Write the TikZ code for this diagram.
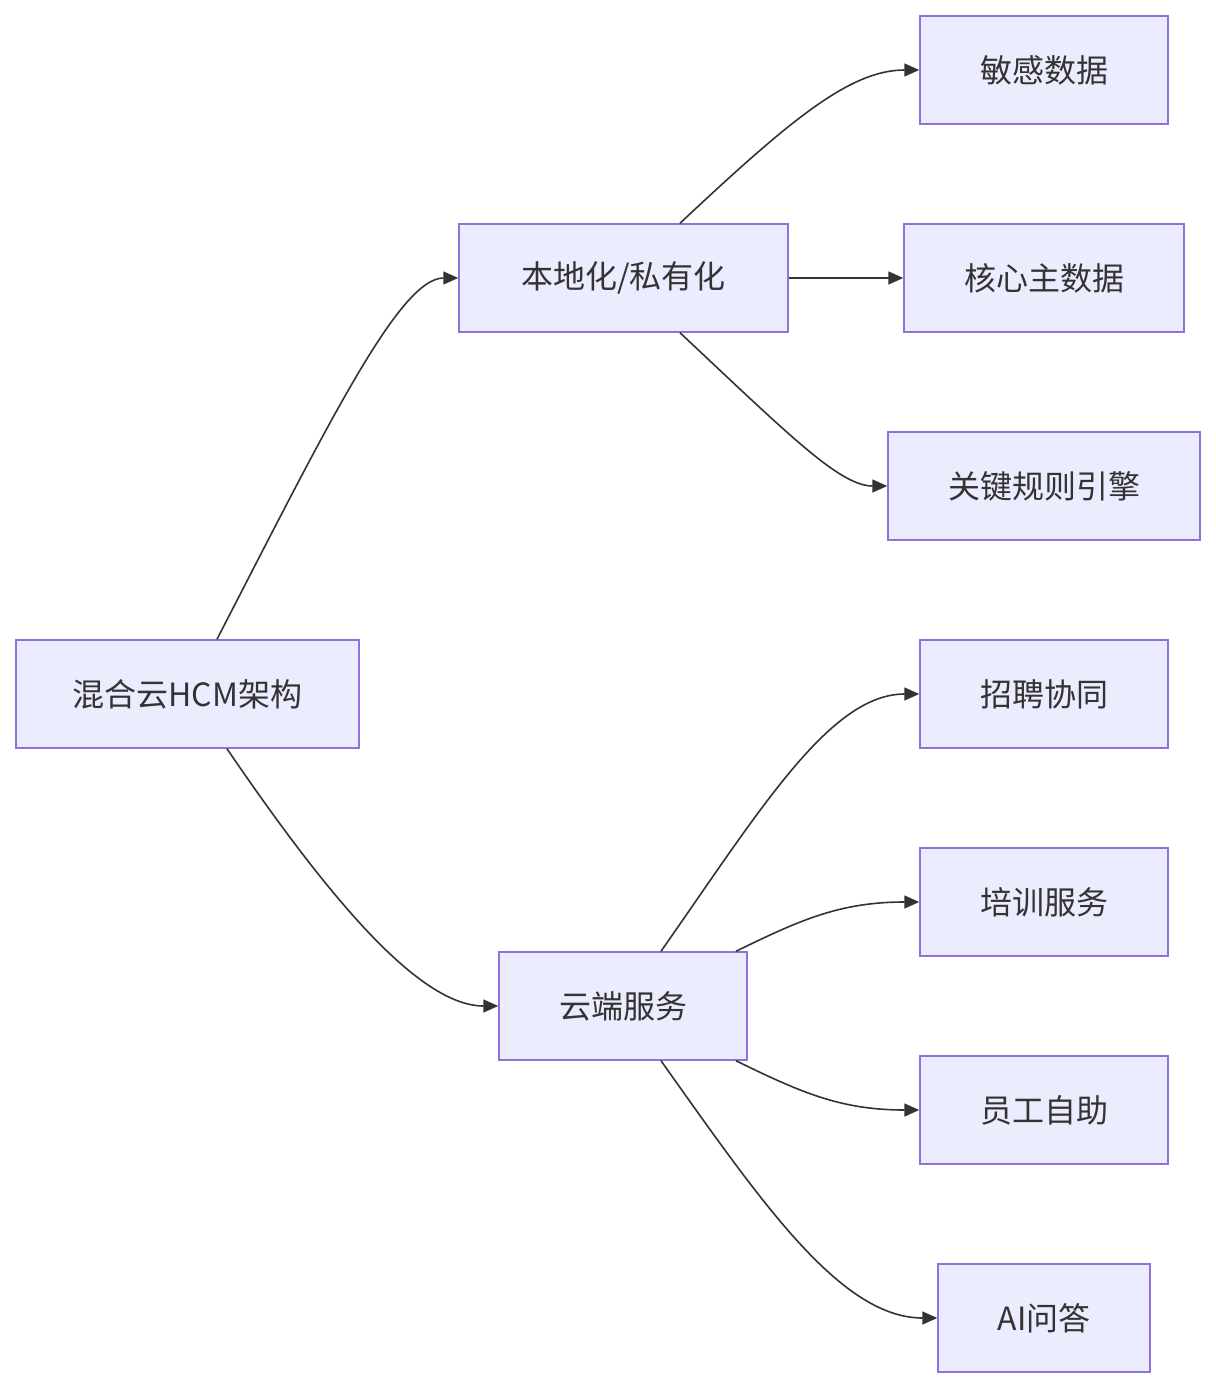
\documentclass[tikz,border=0pt]{standalone}
\usepackage{fontspec}
\setmainfont{Noto Sans CJK SC}
\usetikzlibrary{arrows.meta}
\definecolor{boxfill}{HTML}{ECECFF}
\definecolor{boxline}{HTML}{9370DB}
\definecolor{ink}{HTML}{333333}
\begin{document}
\begin{tikzpicture}[x=1pt,y=-1pt,
  box/.style={draw=boxline,fill=boxfill,line width=1.5pt,inner sep=0pt,
    minimum height=108pt,text=ink,font=\fontsize{32}{38}\selectfont},
  link/.style={draw=ink,line width=1.6pt,-{Triangle[length=15pt,width=13pt]}}]
\useasboundingbox (0,0) rectangle (1215,1388);
\node[box,minimum width=343pt] (A) at (187.5,694) {混合云HCM架构};
\node[box,minimum width=329pt] (B) at (623.5,278) {本地化/私有化};
\node[box,minimum width=248pt] (C) at (623,1006) {云端服务};
\node[box,minimum width=248pt] (D1) at (1044,70) {敏感数据};
\node[box,minimum width=280pt] (D2) at (1044,278) {核心主数据};
\node[box,minimum width=312pt] (D3) at (1044,486) {关键规则引擎};
\node[box,minimum width=248pt] (E1) at (1044,694) {招聘协同};
\node[box,minimum width=248pt] (E2) at (1044,902) {培训服务};
\node[box,minimum width=248pt] (E3) at (1044,1110) {员工自助};
\node[box,minimum width=212pt] (E4) at (1044,1318) {AI问答};
\coordinate (A1) at ([xshift=29.5pt]A.north);
\coordinate (A2) at ([xshift=39.5pt]A.south);
\coordinate (B1) at ([xshift=56.5pt]B.north);
\coordinate (B2) at ([xshift=56.5pt]B.south);
\coordinate (C1) at ([xshift=38pt]C.north);
\coordinate (C2) at ([xshift=113pt]C.north);
\coordinate (C3) at ([xshift=113pt]C.south);
\coordinate (C4) at ([xshift=38pt]C.south);
\draw[link] (A1) .. controls (330,420) and (400,278) .. (B.west);
\draw[link] (A2) .. controls (330,900) and (420,1006) .. (C.west);
\draw[link] (B1) .. controls (790,120) and (850,70) .. (D1.west);
\draw[link] (B.east) -- (D2.west);
\draw[link] (B2) .. controls (790,436) and (840,486) .. (D3.west);
\draw[link] (C1) .. controls (760,810) and (830,694) .. (E1.west);
\draw[link] (C2) .. controls (800,920) and (840,902) .. (E2.west);
\draw[link] (C3) .. controls (800,1092) and (840,1110) .. (E3.west);
\draw[link] (C4) .. controls (760,1200) and (840,1318) .. (E4.west);
\end{tikzpicture}
\end{document}
